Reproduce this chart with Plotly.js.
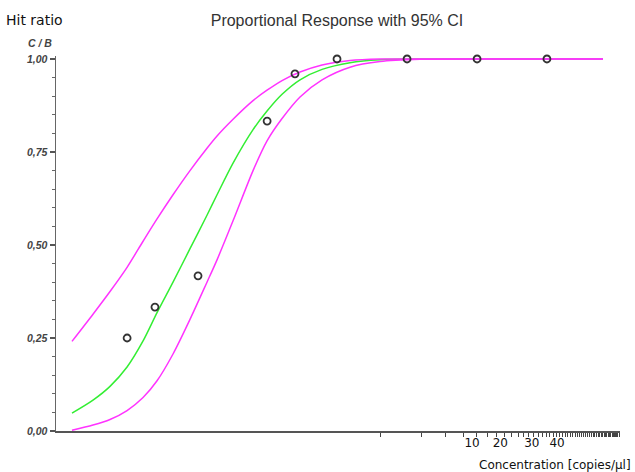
<!DOCTYPE html>
<html>
<head>
<meta charset="utf-8">
<script src="https://cdn.plot.ly/plotly-3.0.1.min.js"></script>
<style>
html,body{margin:0;padding:0;background:#fff;}
#chart{width:635px;height:472px;}
</style>
</head>
<body>
<div id="chart"></div>
<script>
// ---- data ----
const concentration = [0.0147, 0.0234, 0.048, 0.152, 0.242, 0.488, 1.57, 5.05, 16.2];
const hitRatio = [0.25, 0.333, 0.417, 0.833, 0.96, 1.0, 1.0, 1.0, 1.0];

const curveX = [0.00586, 0.00832, 0.01105, 0.01469, 0.01918, 0.02422, 0.03162, 0.04198, 0.05574,
                0.0659, 0.0861, 0.1202, 0.1518, 0.195, 0.2632, 0.3802, 0.6065, 1.0, 1.95, 5.305, 14.43, 41.3];
const fitMid = [0.048, 0.083, 0.12, 0.172, 0.242, 0.318, 0.40, 0.49, 0.58,
                0.635, 0.72, 0.81, 0.86, 0.905, 0.944, 0.972, 0.99, 0.998, 1.0, 1.0, 1.0, 1.0];
const ciUpper = [0.241, 0.314, 0.375, 0.44, 0.51, 0.57, 0.635, 0.70, 0.76,
                 0.793, 0.838, 0.888, 0.916, 0.942, 0.965, 0.984, 0.996, 1.0, 1.0, 1.0, 1.0, 1.0];
const ciLower = [0.002, 0.016, 0.031, 0.055, 0.09, 0.135, 0.207, 0.30, 0.40,
                 0.46, 0.565, 0.70, 0.78, 0.84, 0.898, 0.944, 0.978, 0.993, 0.999, 1.0, 1.0, 1.0];

const xTickLabels = ['10', '20', '30', '40'];
const xTickLabelVals = [4.65, 7.45, 12.6, 19.2];
const xMinorTickVals = Array.from({length: 55}, (_, i) => i + 1);

// ---- layout helpers ----
const W = 635, H = 472, ML = 56, MR = 15, MT = 56, MB = 41;
const px2paperX = px => (px - ML) / (W - ML - MR);
const px2paperY = py => (H - MB - py) / (H - MT - MB);

const magenta = '#ff33ff';
const green = '#33ee33';

const traces = [
  {x: curveX, y: fitMid, mode: 'lines', line: {color: green, width: 1.5, shape: 'spline', smoothing: 0.8}, cliponaxis: false, hoverinfo: 'skip'},
  {x: curveX, y: ciLower, mode: 'lines', line: {color: magenta, width: 1.5, shape: 'spline', smoothing: 0.8}, cliponaxis: false, hoverinfo: 'skip'},
  {x: curveX, y: ciUpper, mode: 'lines', line: {color: magenta, width: 1.5, shape: 'spline', smoothing: 0.8}, cliponaxis: false, hoverinfo: 'skip'},
  {x: concentration, y: hitRatio, mode: 'markers', cliponaxis: false,
   marker: {symbol: 'circle-open', size: 7, color: '#333', line: {width: 1.8, color: '#333'}}}
];

const layout = {
  width: W, height: H,
  margin: {l: ML, r: MR, t: MT, b: MB, pad: 0},
  paper_bgcolor: '#fff', plot_bgcolor: '#fff',
  showlegend: false,
  separators: ',.',
  title: {text: 'Proportional Response with 95% CI', font: {family: 'Liberation Sans, Arial', size: 16, color: '#333'},
          x: 337 / W, xanchor: 'center', y: 1 - 20 / H, yanchor: 'middle'},
  xaxis: {
    type: 'log', range: [-2.348, 1.739],
    showgrid: false, zeroline: false,
    showline: true, linecolor: '#555', linewidth: 1.5,
    tickmode: 'array', tickvals: xTickLabelVals, ticktext: xTickLabels,
    ticks: '', ticklen: 0,
    tickfont: {family: 'DejaVu Sans', size: 12, color: '#111'},
    minor: {tickmode: 'array', tickvals: xMinorTickVals, ticks: 'outside', ticklen: 4, tickwidth: 1, tickcolor: '#444', showgrid: false}
  },
  yaxis: {
    range: [0, 1.008],
    showgrid: false, zeroline: false,
    showline: true, linecolor: '#666', linewidth: 1.5,
    tickmode: 'array', tickvals: [0, 0.25, 0.5, 0.75, 1], tickformat: '.2f',
    ticks: 'outside', ticklen: 5, tickwidth: 1.2, tickcolor: '#555',
    tickfont: {family: 'Liberation Sans, Arial', size: 10.5, color: '#444', style: 'italic', weight: 'bold'},
    minor: {tickmode: 'array', tickvals: [0.05,0.1,0.15,0.2,0.3,0.35,0.4,0.45,0.55,0.6,0.65,0.7,0.8,0.85,0.9,0.95],
            ticks: 'outside', ticklen: 3, tickwidth: 1, tickcolor: '#666', showgrid: false}
  },
  annotations: [
    {text: 'Hit ratio', xref: 'paper', yref: 'paper', x: px2paperX(4), y: px2paperY(20), xanchor: 'left', yanchor: 'middle',
     showarrow: false, font: {family: 'DejaVu Sans', size: 14, color: '#111'}},
    {text: 'C / B', xref: 'paper', yref: 'paper', x: px2paperX(40), y: px2paperY(43), xanchor: 'center', yanchor: 'middle',
     showarrow: false, font: {family: 'Liberation Sans, Arial', size: 10.5, color: '#444', style: 'italic', weight: 'bold'}},
    {text: 'Concentration [copies/µl]', xref: 'paper', yref: 'paper', x: px2paperX(633), y: px2paperY(465), xanchor: 'right', yanchor: 'middle',
     showarrow: false, font: {family: 'DejaVu Sans', size: 12, color: '#111'}}
  ]
};

Plotly.newPlot('chart', traces, layout, {staticPlot: true, displayModeBar: false});
</script>
</body>
</html>
